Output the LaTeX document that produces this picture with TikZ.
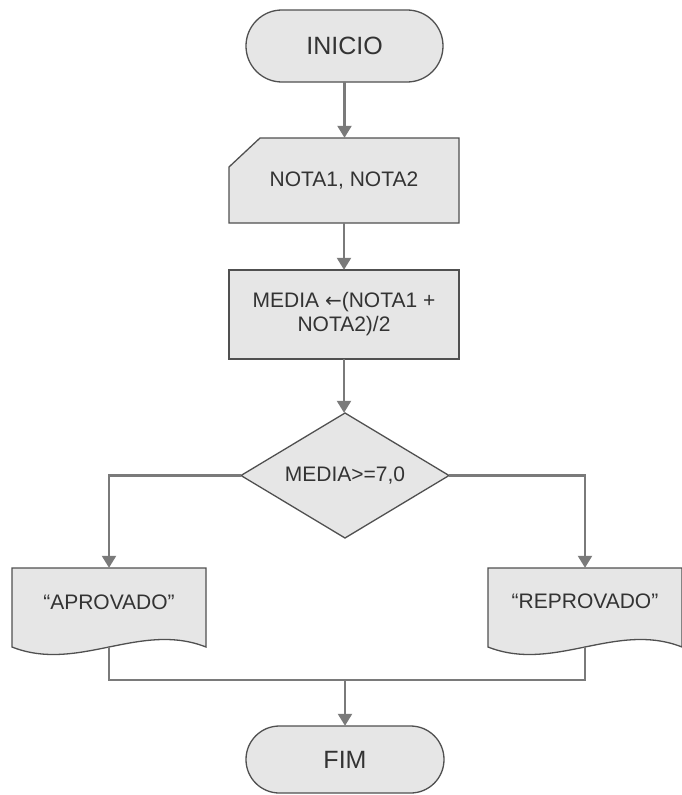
\documentclass[tikz,border=0pt]{standalone}
\usepackage{fontspec}
\setmainfont{Liberation Sans}
\newfontfamily\arrowfont{DejaVu Sans}
\usetikzlibrary{arrows.meta}
\definecolor{shapefill}{HTML}{E6E6E6}
\definecolor{shapeline}{HTML}{505050}
\definecolor{connc}{HTML}{7A7A7A}
\definecolor{txt}{HTML}{333333}
\begin{document}
\begin{tikzpicture}[x=1pt,y=-1pt,
  shp/.style={fill=shapefill,draw=shapeline,line width=1.3pt},
  lbl/.style={inner sep=0pt,text=txt,font=\fontsize{21}{24}\selectfont},
  term/.style={lbl,font=\fontsize{25}{28}\selectfont},
  conn/.style={draw=connc,line width=2.3pt},
  arr/.style={conn,-{Triangle[length=12pt,width=14pt]}}]
\useasboundingbox (0,0) rectangle (681,795);
\fill[white] (0,0) rectangle (681,795);
% INICIO
\draw[shp,rounded corners=35.9pt] (246,10) rectangle (443,82);
\node[term,minimum width=197pt,minimum height=72pt] (inicio) at (344.5,46) {INICIO};
% manual input
\draw[shp] (260,138) -- (459,138) -- (459,223) -- (229,223) -- (229,167) -- cycle;
\node[lbl,minimum width=230pt,minimum height=85pt] (nota) at (344,180.5) {NOTA1, NOTA2};
% process
\draw[shp] (229,270) rectangle (459,359);
\node[lbl,align=center,minimum width=230pt,minimum height=89pt] (media) at (344,314.5) {MEDIA {\arrowfont\fontsize{20}{24}\selectfont ←}(NOTA1 +\\NOTA2)/2};
% decision
\draw[shp] (345,413) -- (449,475.5) -- (345,538) -- (241,475.5) -- cycle;
\node[lbl,minimum width=208pt,minimum height=125pt] (cond) at (345,475.5) {MEDIA>=7,0};
% documents
\draw[shp] (12,568) -- (206,568) -- (206,647) .. controls (140,621) and (78,673) .. (12,647) -- cycle;
\node[lbl,minimum width=194pt,minimum height=79pt] (apr) at (109,607.5) {\raisebox{-2pt}[0pt][0pt]{“APROVADO”}};
\draw[shp] (488,568) -- (682,568) -- (682,647) .. controls (616,621) and (554,673) .. (488,647) -- cycle;
\node[lbl,minimum width=194pt,minimum height=79pt] (rep) at (585,607.5) {\raisebox{-1pt}[0pt][0pt]{“REPROVADO”}};
% FIM
\draw[shp,rounded corners=33.4pt] (246,726) rectangle (444,793);
\node[term,minimum width=198pt,minimum height=67pt] (fim) at (345,759.5) {FIM};
% connectors
\draw[arr] (inicio.south) -- (inicio.south |- nota.north);
\draw[arr] (nota.south) -- (media.north);
\draw[arr] (media.south) -- (media.south |- cond.north);
\draw[arr] (cond.west) -| (apr.north);
\draw[arr] (cond.east) -| (rep.north);
\coordinate (join) at (345,680);
\draw[conn] (apr.south) |- (join) -| (rep.south);
\draw[arr] (join) -- (fim.north);
\end{tikzpicture}
\end{document}
